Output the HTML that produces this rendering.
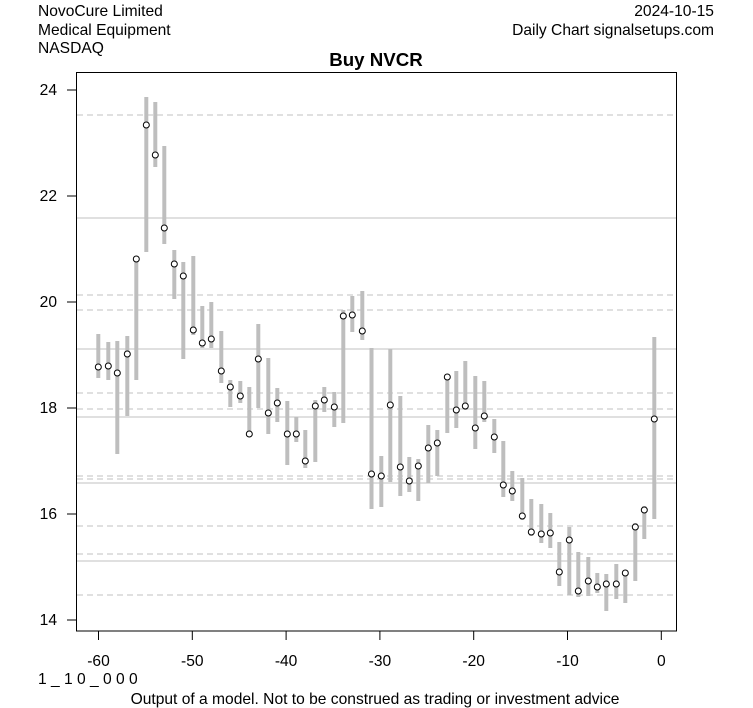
<!DOCTYPE html><html><head><style>body{margin:0;background:#fff}svg{display:block}text{font-family:"Liberation Sans",Arial,sans-serif;fill:#000}</style></head><body>
<svg width="753" height="708" xmlns="http://www.w3.org/2000/svg">
<text x="38" y="16" font-size="15.6">NovoCure Limited</text>
<text x="38" y="35" font-size="15.6">Medical Equipment</text>
<text x="38" y="53" font-size="15.6">NASDAQ</text>
<text x="714" y="16" font-size="15.6" text-anchor="end">2024-10-15</text>
<text x="714" y="35" font-size="15.6" text-anchor="end">Daily Chart signalsetups.com</text>
<text x="376" y="66" font-size="18.7" font-weight="bold" text-anchor="middle">Buy NVCR</text>
<g stroke="#c0c0c0" stroke-width="1">
<line x1="77" x2="676" y1="218" y2="218"/><line x1="77" x2="676" y1="349" y2="349"/><line x1="77" x2="676" y1="417" y2="417"/><line x1="77" x2="676" y1="483" y2="483"/><line x1="77" x2="676" y1="561" y2="561"/>
</g>
<g stroke="#c0c0c0" stroke-width="1" stroke-dasharray="6,4">
<line x1="77" x2="676" y1="115" y2="115"/><line x1="77" x2="676" y1="295" y2="295"/><line x1="77" x2="676" y1="310" y2="310"/><line x1="77" x2="676" y1="393" y2="393"/><line x1="77" x2="676" y1="409" y2="409"/><line x1="77" x2="676" y1="476" y2="476"/><line x1="77" x2="676" y1="479" y2="479"/><line x1="77" x2="676" y1="526" y2="526"/><line x1="77" x2="676" y1="554" y2="554"/><line x1="77" x2="676" y1="595" y2="595"/>
</g>
<g stroke="#bebebe" stroke-width="4">
<line x1="98.3" x2="98.3" y1="334" y2="378"/><line x1="108.3" x2="108.3" y1="342" y2="380"/><line x1="117.3" x2="117.3" y1="341" y2="454"/><line x1="127.3" x2="127.3" y1="336" y2="416"/><line x1="136.3" x2="136.3" y1="259" y2="380"/><line x1="146.3" x2="146.3" y1="97" y2="252"/><line x1="155.3" x2="155.3" y1="102" y2="167"/><line x1="164.3" x2="164.3" y1="146" y2="244"/><line x1="174.3" x2="174.3" y1="250" y2="299"/><line x1="183.3" x2="183.3" y1="262" y2="359"/><line x1="193.3" x2="193.3" y1="256" y2="335"/><line x1="202.3" x2="202.3" y1="306" y2="348"/><line x1="211.3" x2="211.3" y1="302" y2="348"/><line x1="221.3" x2="221.3" y1="331" y2="383"/><line x1="230.3" x2="230.3" y1="380" y2="407"/><line x1="240.3" x2="240.3" y1="381" y2="403"/><line x1="249.3" x2="249.3" y1="387" y2="434"/><line x1="258.3" x2="258.3" y1="324" y2="408"/><line x1="268.3" x2="268.3" y1="358" y2="434"/><line x1="277.3" x2="277.3" y1="388" y2="422"/><line x1="287.3" x2="287.3" y1="401" y2="465"/><line x1="296.3" x2="296.3" y1="417" y2="442"/><line x1="305.3" x2="305.3" y1="430" y2="468"/><line x1="315.3" x2="315.3" y1="400" y2="462"/><line x1="324.3" x2="324.3" y1="387" y2="412"/><line x1="334.3" x2="334.3" y1="392" y2="427"/><line x1="343.3" x2="343.3" y1="310" y2="423"/><line x1="352.3" x2="352.3" y1="296" y2="332"/><line x1="362.3" x2="362.3" y1="291" y2="340"/><line x1="371.5" x2="371.5" y1="348" y2="509"/><line x1="381.3" x2="381.3" y1="456" y2="507"/><line x1="390.3" x2="390.3" y1="349" y2="482"/><line x1="400.3" x2="400.3" y1="396" y2="496"/><line x1="409.3" x2="409.3" y1="457" y2="492"/><line x1="418.3" x2="418.3" y1="459" y2="501"/><line x1="428.3" x2="428.3" y1="425" y2="483"/><line x1="437.3" x2="437.3" y1="430" y2="476"/><line x1="447.3" x2="447.3" y1="377" y2="433"/><line x1="456.3" x2="456.3" y1="371" y2="428"/><line x1="465.3" x2="465.3" y1="361" y2="410"/><line x1="475.3" x2="475.3" y1="376" y2="449"/><line x1="484.3" x2="484.3" y1="381" y2="422"/><line x1="494.3" x2="494.3" y1="419" y2="453"/><line x1="503.3" x2="503.3" y1="441" y2="497"/><line x1="512.3" x2="512.3" y1="471" y2="501"/><line x1="522.3" x2="522.3" y1="478" y2="520"/><line x1="531.3" x2="531.3" y1="499" y2="536"/><line x1="541.3" x2="541.3" y1="504" y2="543"/><line x1="550.3" x2="550.3" y1="513" y2="548"/><line x1="559.3" x2="559.3" y1="542" y2="586"/><line x1="569.3" x2="569.3" y1="527" y2="595"/><line x1="578.3" x2="578.3" y1="552" y2="597"/><line x1="588.3" x2="588.3" y1="557" y2="596"/><line x1="597.3" x2="597.3" y1="573" y2="593"/><line x1="606.3" x2="606.3" y1="574" y2="611"/><line x1="616.3" x2="616.3" y1="564" y2="599"/><line x1="625.3" x2="625.3" y1="573" y2="603"/><line x1="635.3" x2="635.3" y1="523" y2="581"/><line x1="644.3" x2="644.3" y1="506" y2="539"/><line x1="654.3" x2="654.3" y1="337" y2="519"/>
</g>
<g fill="#fff" stroke="#000" stroke-width="1">
<circle cx="98.3" cy="367" r="3"/><circle cx="108.3" cy="366" r="3"/><circle cx="117.3" cy="373" r="3"/><circle cx="127.3" cy="354" r="3"/><circle cx="136.3" cy="259" r="3"/><circle cx="146.3" cy="125" r="3"/><circle cx="155.3" cy="155" r="3"/><circle cx="164.3" cy="228" r="3"/><circle cx="174.3" cy="264" r="3"/><circle cx="183.3" cy="276" r="3"/><circle cx="193.3" cy="330" r="3"/><circle cx="202.3" cy="343" r="3"/><circle cx="211.3" cy="339" r="3"/><circle cx="221.3" cy="371" r="3"/><circle cx="230.3" cy="387" r="3"/><circle cx="240.3" cy="396" r="3"/><circle cx="249.3" cy="434" r="3"/><circle cx="258.3" cy="359" r="3"/><circle cx="268.3" cy="413" r="3"/><circle cx="277.3" cy="403" r="3"/><circle cx="287.3" cy="434" r="3"/><circle cx="296.3" cy="434" r="3"/><circle cx="305.3" cy="461" r="3"/><circle cx="315.3" cy="406" r="3"/><circle cx="324.3" cy="400" r="3"/><circle cx="334.3" cy="407" r="3"/><circle cx="343.3" cy="316" r="3"/><circle cx="352.3" cy="315" r="3"/><circle cx="362.3" cy="331" r="3"/><circle cx="371.5" cy="474" r="3"/><circle cx="381.3" cy="476" r="3"/><circle cx="390.3" cy="405" r="3"/><circle cx="400.3" cy="467" r="3"/><circle cx="409.3" cy="481" r="3"/><circle cx="418.3" cy="466" r="3"/><circle cx="428.3" cy="448" r="3"/><circle cx="437.3" cy="443" r="3"/><circle cx="447.3" cy="377" r="3"/><circle cx="456.3" cy="410" r="3"/><circle cx="465.3" cy="406" r="3"/><circle cx="475.3" cy="428" r="3"/><circle cx="484.3" cy="416" r="3"/><circle cx="494.3" cy="437" r="3"/><circle cx="503.3" cy="485" r="3"/><circle cx="512.3" cy="491" r="3"/><circle cx="522.3" cy="516" r="3"/><circle cx="531.3" cy="532" r="3"/><circle cx="541.3" cy="534" r="3"/><circle cx="550.3" cy="533" r="3"/><circle cx="559.3" cy="572" r="3"/><circle cx="569.3" cy="540" r="3"/><circle cx="578.3" cy="591" r="3"/><circle cx="588.3" cy="581" r="3"/><circle cx="597.3" cy="587" r="3"/><circle cx="606.3" cy="584" r="3"/><circle cx="616.3" cy="584" r="3"/><circle cx="625.3" cy="573" r="3"/><circle cx="635.3" cy="527" r="3"/><circle cx="644.3" cy="510" r="3"/><circle cx="654.3" cy="419" r="3"/>
</g>
<rect x="76.5" y="72.5" width="600" height="558.5" fill="none" stroke="#000" stroke-width="1"/>
<g stroke="#000" stroke-width="1">
<line x1="67" x2="76.5" y1="620" y2="620"/><line x1="67" x2="76.5" y1="514" y2="514"/><line x1="67" x2="76.5" y1="408" y2="408"/><line x1="67" x2="76.5" y1="302" y2="302"/><line x1="67" x2="76.5" y1="196" y2="196"/><line x1="67" x2="76.5" y1="90" y2="90"/>
<line x1="98.5" x2="98.5" y1="631" y2="640"/><line x1="192.3" x2="192.3" y1="631" y2="640"/><line x1="286.1" x2="286.1" y1="631" y2="640"/><line x1="379.9" x2="379.9" y1="631" y2="640"/><line x1="473.7" x2="473.7" y1="631" y2="640"/><line x1="567.5" x2="567.5" y1="631" y2="640"/><line x1="661.3" x2="661.3" y1="631" y2="640"/>
</g>
<g font-size="15.6" text-anchor="end">
<text x="57" y="625">14</text><text x="57" y="519">16</text><text x="57" y="413">18</text><text x="57" y="307">20</text><text x="57" y="201">22</text><text x="57" y="95">24</text>
</g>
<g font-size="15.6" text-anchor="middle">
<text x="98.5" y="666">-60</text><text x="192.3" y="666">-50</text><text x="286.1" y="666">-40</text><text x="379.9" y="666">-30</text><text x="473.7" y="666">-20</text><text x="567.5" y="666">-10</text><text x="661.3" y="666">0</text>
</g>
<text x="38" y="684" font-size="15.6">1 _ 1 0 _ 0 0 0</text>
<text x="375" y="704" font-size="15.6" text-anchor="middle">Output of a model. Not to be construed as trading or investment advice</text>
</svg>
</body></html>
